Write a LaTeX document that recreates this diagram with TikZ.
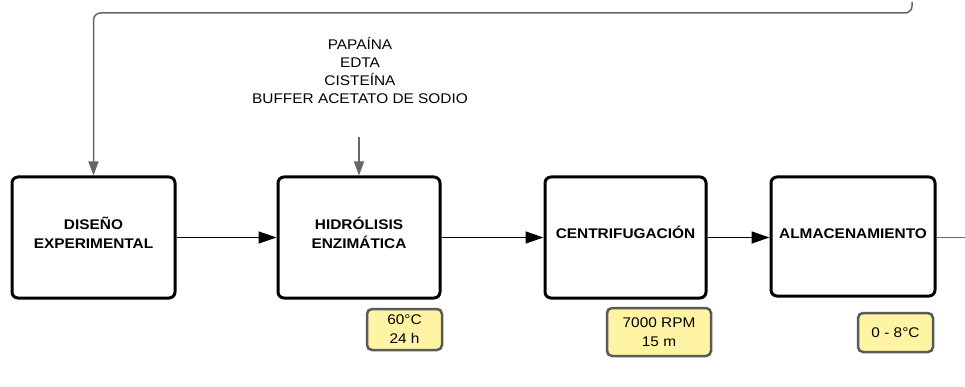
\documentclass[tikz,border=0pt]{standalone}
\usepackage{fontspec}
\setmainfont{Liberation Sans}[FakeStretch=1.1]
\usetikzlibrary{arrows.meta}
\definecolor{fbgray}{HTML}{666666}
\definecolor{noteyellow}{HTML}{FFF4A3}
\definecolor{noteborder}{HTML}{5A5A5A}
\tikzset{
  stepbox/.style={draw=black, line width=3pt, rounded corners=6pt, fill=white,
    align=center, font=\bfseries\fontsize{14}{19}\selectfont, inner sep=0pt,
    text height=10pt, text depth=8pt},
  twoline/.style={text height=29pt, text depth=8pt},
  notebox/.style={draw=noteborder, line width=2.5pt, rounded corners=5pt, fill=noteyellow,
    align=center, font=\fontsize{14}{19}\selectfont, inner sep=0pt},
  flow/.style={line width=1.5pt, -{Triangle[length=18pt,width=12pt]}},
  grayflow/.style={draw=fbgray, line width=1.5pt, -{Triangle[length=14pt,width=10pt]}, fbgray},
}
\begin{document}
\begin{tikzpicture}[x=1pt,y=-1pt]
\useasboundingbox (0,0) rectangle (965,387);
\node[stepbox, twoline, minimum width=163pt, minimum height=121pt] (b1) at (93.5,237.5) {DISEÑO\\EXPERIMENTAL};
\node[stepbox, twoline, minimum width=162pt, minimum height=121pt] (b2) at (359,237.5) {HIDRÓLISIS\\ENZIMÁTICA};
\node[stepbox, minimum width=161pt, minimum height=121pt] (b3) at (625.5,237.5) {CENTRIFUGACIÓN};
\node[stepbox, minimum width=164pt, minimum height=119pt, text depth=6pt] (b4) at (853,236.5) {ALMACENAMIENTO};

\node[notebox, minimum width=75pt, minimum height=41pt] (n1) at (404.5,329.5) {60°C\\24 h};
\node[notebox, minimum width=104pt, minimum height=48pt] (n2) at (659,332) {7000 RPM\\15 m};
\node[notebox, minimum width=75pt, minimum height=39pt] (n3) at (895.5,332.5) {0 - 8°C};

\node[align=center, font=\fontsize{14}{18.3}\selectfont, inner sep=0pt] (inputs) at (360,70.5)
  {PAPAÍNA\\EDTA\\CISTEÍNA\\BUFFER ACETATO DE SODIO};

\coordinate (in) at (359,137);
\coordinate (fbstart) at (912,2);
\coordinate (outend) at (966,237.5);

\draw[flow] (b1.east |- 0,237.5) -- (b2.west |- 0,237.5);
\draw[flow] (b2.east |- 0,237.5) -- (b3.west |- 0,237.5);
\draw[flow] (b3.east |- 0,237.5) -- (b4.west |- 0,237.5);
\draw[grayflow] (in) -- (b2.north);
\draw[grayflow, rounded corners=7pt] (fbstart) -- (912,13) -| (b1.north);
\draw[draw=fbgray, line width=1.5pt] (b4.east |- outend) -- (outend);
\end{tikzpicture}
\end{document}
